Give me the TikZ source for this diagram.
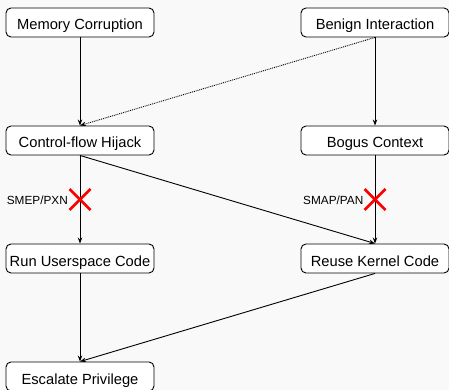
\documentclass[tikz,border=0pt]{standalone}
\usepackage{fontspec}
\setmainfont{Liberation Sans}
\usetikzlibrary{arrows.meta}
\definecolor{bgcol}{HTML}{F9F9F9}
\definecolor{xred}{HTML}{FF0000}
\begin{document}
\begin{tikzpicture}[x=1pt,y=-1pt,
  stage/.style={draw=black,line width=0.9pt,fill=white,rounded corners=5pt,
    minimum width=148pt,minimum height=29pt,inner sep=0pt,
    text height=15pt,text depth=0pt,
    font=\fontsize{14.7}{16}\selectfont},
  flow/.style={line width=0.9pt,-{Stealth[length=6pt,width=4.5pt]}},
  weak/.style={line width=0.9pt,densely dotted,-{Stealth[length=6pt,width=4.5pt]}},
  guard/.style={font=\fontsize{11.8}{13}\selectfont,anchor=east,inner sep=0pt},
  cross/.style={draw=xred,line width=2.6pt}]
\fill[bgcol] (0,0) rectangle (449,390);
\useasboundingbox (0,0) rectangle (449,390);

\node[stage] (mem) at (80,22.5) {Memory Corruption};
\node[stage] (ben) at (375,22.5) {Benign Interaction};
\node[stage] (cfh) at (80,140.5) {Control-flow Hijack};
\node[stage] (bog) at (375,140.5) {Bogus Context};
\node[stage] (run) at (80,258.5) {Run Userspace Code};
\node[stage] (reu) at (375,258.5) {Reuse Kernel Code};
\node[stage] (esc) at (80,376.5) {Escalate Privilege};

\draw[flow] (mem.south) -- (cfh.north);
\draw[flow] (ben.south) -- (bog.north);
\draw[weak] (ben.south) -- (cfh.north);
\draw[flow] (cfh.south) -- (run.north);
\draw[flow] (cfh.south) -- (reu.north);
\draw[flow] (bog.south) -- (reu.north);
\draw[flow] (run.south) -- (esc.north);
\draw[flow] (reu.south) -- (esc.north);

% blocked transitions
\coordinate (xl) at (80,199.5);
\coordinate (xr) at (375,199.5);
\draw[cross] ([shift={(-10.5,-10.5)}]xl) -- ([shift={(10.5,10.5)}]xl)
             ([shift={(-10.5,10.5)}]xl) -- ([shift={(10.5,-10.5)}]xl);
\draw[cross] ([shift={(-10.5,-10.5)}]xr) -- ([shift={(10.5,10.5)}]xr)
             ([shift={(-10.5,10.5)}]xr) -- ([shift={(10.5,-10.5)}]xr);
\node[guard] (smep) at (68,200.5) {SMEP/PXN};
\node[guard] (smap) at (363.5,200.5) {SMAP/PAN};
\end{tikzpicture}
\end{document}
